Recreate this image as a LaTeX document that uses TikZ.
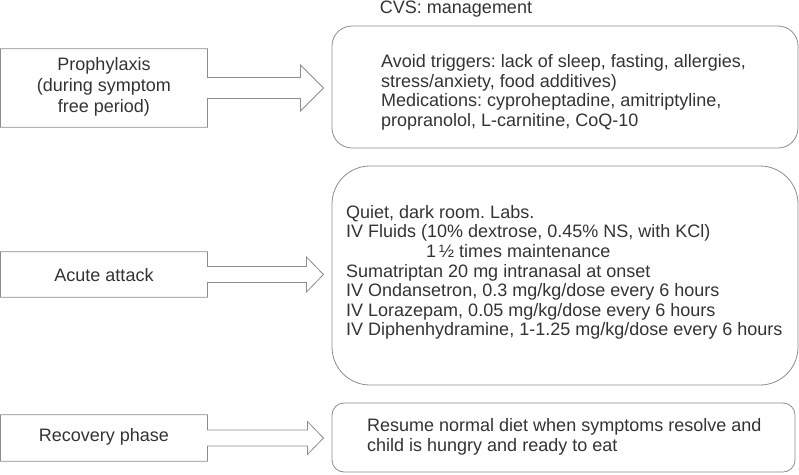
\documentclass[tikz,border=0pt]{standalone}
\usepackage{fontspec}
\setmainfont{Liberation Sans}
\usetikzlibrary{calc}
\definecolor{txt}{HTML}{333333}
\definecolor{ln}{HTML}{8C8C8C}
\frenchspacing
\begin{document}
\frenchspacing
\begin{tikzpicture}[x=1pt,y=-1pt,
  font=\fontsize{18}{20}\selectfont, text=txt,
  outl/.style={draw=ln, line width=0.8pt, line join=miter},
  lbl/.style={inner sep=0pt, align=center, font=\fontsize{18}{21}\selectfont},
  sidebox/.style={inner sep=0pt, draw=none},
  rbox/.style={draw=ln, line width=0.8pt, inner sep=0pt},
  boxtxt/.style={inner sep=0pt, align=left, anchor=west, font=\fontsize{18}{19.6}\selectfont}]
\useasboundingbox (0,0) rectangle (799,474);

% title
\node[inner sep=0pt] (title) at (456,9) {CVS: management};

% left callouts
\node[sidebox, minimum width=206.5pt, minimum height=78pt] (r1) at (104,88) {};
\node[lbl] (l1) at (104,87) {Prophylaxis\\(during symptom\\free period)};
\coordinate (tip1) at ($(r1.east)+(116,0)$);
\draw[outl] (r1.north west) -- (r1.north east) -- ($(r1.east)+(0,-10.5)$) -- ++(93,0) -- ++(0,-12.5)
  -- (tip1) -- ($(r1.east)+(93,23)$) -- ++(0,-12.5) -- ($(r1.east)+(0,10.5)$)
  -- (r1.south east) -- (r1.south west) -- cycle;

\node[sidebox, minimum width=206.5pt, minimum height=45pt] (r2) at (104,274.5) {};
\node[lbl] (l2) at (104,275) {Acute attack};
\coordinate (tip2) at ($(r2.east)+(116,0)$);
\draw[outl] (r2.north west) -- (r2.north east) -- ($(r2.east)+(0,-8)$) -- ++(99,0) -- ++(0,-9.5)
  -- (tip2) -- ($(r2.east)+(99,17.5)$) -- ++(0,-9.5) -- ($(r2.east)+(0,8)$)
  -- (r2.south east) -- (r2.south west) -- cycle;

\node[sidebox, minimum width=206.5pt, minimum height=46pt] (r3) at (104,438) {};
\node[lbl] (l3) at (104,437) {Recovery phase};
\coordinate (tip3) at ($(r3.east)+(116,0)$);
\draw[outl] (r3.north west) -- (r3.north east) -- ($(r3.east)+(0,-8)$) -- ++(100,0) -- ++(0,-8.5)
  -- (tip3) -- ($(r3.east)+(100,16.5)$) -- ++(0,-8.5) -- ($(r3.east)+(0,8)$)
  -- (r3.south east) -- (r3.south west) -- cycle;

% right boxes
\node[rbox, rounded corners=20pt, minimum width=466pt, minimum height=122pt] (b1) at (565,87) {};
\node[boxtxt] (t1) at (381,92.5) {Avoid triggers: lack of sleep, fasting, allergies,\\stress/anxiety, food additives)\\Medications: cyproheptadine, amitriptyline,\\propranolol, L-carnitine, CoQ-10};

\node[rbox, rounded corners=38pt, minimum width=466pt, minimum height=219pt] (b2) at (565,275.5) {};
\node[boxtxt] (t2) at (346,272.5) {Quiet, dark room. Labs.\\IV Fluids (10\% dextrose, 0.45\% NS, with KCl)\\\hspace*{80pt}1\,½ times maintenance\\Sumatriptan 20 mg intranasal at onset\\IV Ondansetron, 0.3 mg/kg/dose every 6 hours\\IV Lorazepam, 0.05 mg/kg/dose every 6 hours\\IV Diphenhydramine, 1-1.25 mg/kg/dose every 6 hours};

\node[rbox, rounded corners=12pt, minimum width=463pt, minimum height=69pt] (b3) at (563.5,437.5) {};
\node[boxtxt] (t3) at (367,437) {Resume normal diet when symptoms resolve and\\child is hungry and ready to eat};
\end{tikzpicture}
\end{document}
